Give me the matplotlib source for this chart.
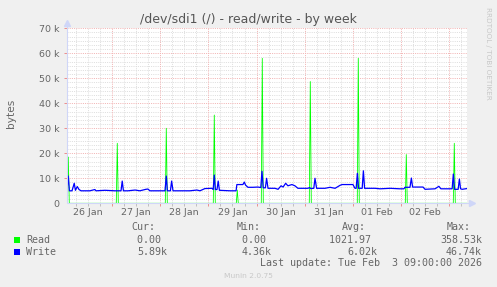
import matplotlib
matplotlib.use("Agg")
import matplotlib.pyplot as plt
from matplotlib.patches import Rectangle
import numpy as np

# ---------------- data ----------------
# time axis: hours since 26 Jan 00:00
t_start, t_end = 1.6, 200.8

day_labels = ["26 Jan", "27 Jan", "28 Jan", "29 Jan", "30 Jan", "31 Jan", "01 Feb", "02 Feb"]
y_ticks = [0, 10000, 20000, 30000, 40000, 50000, 60000, 70000]
y_labels = ["0", "10 k", "20 k", "30 k", "40 k", "50 k", "60 k", "70 k"]

read_hours = [1.6, 1.74, 2.24, 2.74,
              26.14, 26.64, 27.14,
              50.55, 51.05, 51.55,
              74.45, 74.95, 75.45,
              85.9, 86.4, 86.9,
              98.35, 98.85, 99.35,
              122.26, 122.76, 123.26,
              146.16, 146.66, 147.16,
              170.07, 170.57, 171.07,
              193.97, 194.47, 194.97,
              200.8]
read_vals = [0, 0, 18500, 0,
             0, 24000, 0,
             0, 30000, 0,
             0, 35300, 0,
             0, 5300, 0,
             0, 58000, 0,
             0, 48700, 0,
             0, 58000, 0,
             0, 19500, 0,
             0, 24000, 0,
             0]

write_hours = [1.6, 2.24, 2.8, 4.1, 5.2, 5.8, 6.7, 7.6, 8.6, 13.0, 15.5, 16.0, 20.5, 25.5,
               28.5, 29.1, 29.7, 32.0, 35.5, 37.9, 40.9, 41.9, 42.9, 50.4, 51.05, 51.6,
               53.1, 53.7, 54.4, 62.8, 66.3, 67.8, 70.3, 73.8, 74.4, 74.95, 75.5, 76.3,
               76.9, 77.5, 82.8, 85.8, 86.2, 89.2, 89.9, 90.5, 91.7, 94.2, 96.7, 98.1,
               98.7, 99.3, 100.4, 101.0, 101.7, 105.2, 106.7, 108.2, 109.2, 110.5, 111.6,
               113.6, 115.1, 116.6, 121.6, 122.4, 123.0, 124.5, 125.1, 125.9, 130.1,
               132.6, 135.1, 137.6, 138.6, 144.0, 145.0, 145.6, 146.2, 146.8, 148.6,
               149.2, 149.8, 155.0, 157.5, 162.5, 167.4, 169.4, 169.9, 172.4, 173.1,
               173.7, 178.9, 179.9, 184.9, 186.8, 187.8, 193.4, 194.0, 194.6, 196.4,
               197.0, 197.6, 198.4, 200.8]
write_vals = [5000, 10900, 5000, 5000, 8000, 5200, 6700, 5500, 5000, 5000, 5500, 5000, 5200, 5000,
              5000, 8900, 5000, 5000, 5300, 5000, 5600, 5700, 5000, 5000, 10900, 5000,
              5000, 8900, 5000, 5000, 5300, 5000, 5900, 6000, 5500, 11300, 5500, 5500,
              8900, 5200, 5000, 5000, 7500, 7500, 8500, 7300, 6400, 6400, 6500, 6300,
              12800, 6200, 6200, 10000, 6000, 6000, 5600, 7000, 6500, 8000, 7000,
              7500, 7000, 6000, 6000, 6300, 5900, 6000, 10000, 6000, 6000,
              6400, 6000, 7200, 7500, 7500, 6000, 6000, 12000, 6000, 6000,
              13000, 6000, 6000, 5800, 6000, 5800, 5800, 6400, 6400, 10100,
              6500, 6500, 5600, 5800, 6800, 5800, 5800, 11700, 5600, 5600,
              9700, 5800, 5600, 5900]

legend_names = ["Read", "Write"]
legend_colors = ["#00FF00", "#0000FF"]
cur_vals = ["0.00", "5.89k"]
min_vals = ["0.00", "4.36k"]
avg_vals = ["1021.97", "6.02k"]
max_vals = ["358.53k", "46.74k"]
title = "/dev/sdi1 (/) - read/write - by week"
last_update = "Last update: Tue Feb  3 09:00:00 2026"

# ---------------- figure ----------------
W, H = 497, 287
fig = plt.figure(figsize=(W / 100, H / 100), dpi=100, facecolor="#F0F0F0")
L, R, T, B = 67, 467, 28.3, 203.3
ax = fig.add_axes([L / W, 1 - B / H, (R - L) / W, (B - T) / H])
ax.set_facecolor("#FFFFFF")
for s in ax.spines.values():
    s.set_visible(False)

ax.set_xlim(t_start, t_end)
ax.set_ylim(0, 70000)

FONT = "#666666"
AXC = "#CFD6F8"
dot = (0, (1, 1.2))
MINC = "#DEDEDE"
MAJC = "#F2B4B4"

# minor grid
for h in np.arange(0, 205, 6):
    if h % 24 != 0 and t_start < h < t_end:
        ax.axvline(h, color=MINC, lw=0.72, ls=dot, zorder=1)
        ax.vlines(h, -3 / (B - T), 0, transform=ax.get_xaxis_transform(),
                  color="#C0C0C0", lw=0.72, clip_on=False, zorder=1)
for yv in np.arange(0, 70001, 10000 / 6):
    if abs(yv / 10000 - round(yv / 10000)) > 1e-6:
        ax.axhline(yv, color=MINC, lw=0.72, ls=dot, zorder=1)
# major grid
for h in range(24, 205, 24):
    if t_start < h < t_end:
        ax.axvline(h, color=MAJC, lw=0.72, ls=dot, zorder=1.1)
        ax.vlines(h, -3 / (B - T), 0, transform=ax.get_xaxis_transform(),
                  color="#EC9090", lw=0.72, clip_on=False, zorder=1)
for yv in y_ticks[1:]:
    ax.axhline(yv, color=MAJC, lw=0.72, ls=dot, zorder=1.1)
    ax.hlines(yv, -3 / (R - L), 0, transform=ax.get_yaxis_transform(),
              color="#EC9090", lw=0.72, clip_on=False, zorder=1)

# data
ax.plot(read_hours, read_vals, color=legend_colors[0], lw=0.6, zorder=3)
ax.plot(write_hours, write_vals, color=legend_colors[1], lw=0.9, zorder=4)

# axes lines with arrows
ax.plot([0, 1 + 4 / (R - L)], [0, 0], transform=ax.transAxes, color=AXC, lw=0.8,
        clip_on=False, zorder=5, solid_capstyle="butt")
ax.plot([0, 0], [0, 1 + 4 / (B - T)], transform=ax.transAxes, color=AXC, lw=0.8,
        clip_on=False, zorder=5, solid_capstyle="butt")
ax.plot([1 + 5 / (R - L)], [0], marker=">", ms=4, color=AXC, mec=AXC,
        transform=ax.transAxes, clip_on=False, zorder=5)
ax.plot([0], [1 + 5 / (B - T)], marker="^", ms=4, color=AXC, mec=AXC,
        transform=ax.transAxes, clip_on=False, zorder=5)

# ticks / labels
ax.set_xticks([12 + 24 * i for i in range(len(day_labels))])
ax.set_xticklabels(day_labels)
ax.set_yticks(y_ticks)
ax.set_yticklabels(y_labels)
ax.tick_params(axis="x", length=0, pad=3.2, labelsize=6.8, labelcolor=FONT)
ax.tick_params(axis="y", length=0, pad=5.5, labelsize=6.8, labelcolor=FONT)

fig.text(11 / W, 1 - 113 / H, "bytes", rotation=90, fontsize=7.6, color=FONT,
         ha="center", va="center")
fig.text(248.5 / W, 1 - 19.5 / H, title, fontsize=9, color="#555555",
         ha="center", va="center")
fig.text(487.7 / W, 1 - 53.5 / H, "RRDTOOL / TOBI OETIKER", rotation=270, fontsize=5.2,
         color="#C8C8C8", ha="center", va="center")

# legend
mono = "DejaVu Sans Mono"
fs = 7.2


def ftext(x, y, s, **kw):
    fig.text(x / W, 1 - y / H, s, fontsize=kw.pop("fontsize", fs), family=kw.pop("family", mono),
             color=kw.pop("color", FONT), ha=kw.pop("ha", "left"), va="center", **kw)


ftext(131.7, 227.3, "Cur:")
ftext(236.7, 227.3, "Min:")
ftext(342.3, 227.3, "Avg:")
ftext(446.7, 227.3, "Max:")

rows_y = [239.8, 252.2]
sq_y = [240.0, 252.3]
right_x = [167.0, 272.0, 377.0, 482.0]
for i, name in enumerate(legend_names):
    fig.patches.append(Rectangle((14 / W, 1 - (sq_y[i] + 3) / H), 6 / W, 6 / H,
                                 transform=fig.transFigure, facecolor=legend_colors[i],
                                 edgecolor="none"))
    ftext(26, rows_y[i], name)
    for rx, vals in zip(right_x, [cur_vals, min_vals, avg_vals, max_vals]):
        v = vals[i]
        s = v if v.endswith("k") else v + " "
        ftext(rx, rows_y[i], s.replace(" ", "\u00a0"), ha="right")

ftext(482.5, 263.5, last_update.replace(" ", "\u00a0"), ha="right")
ftext(248.5, 276, "Munin 2.0.75", family="DejaVu Sans", fontsize=5.4, color="#C8C8C8",
      ha="center")

fig.savefig("out.png", dpi=100, facecolor=fig.get_facecolor())
